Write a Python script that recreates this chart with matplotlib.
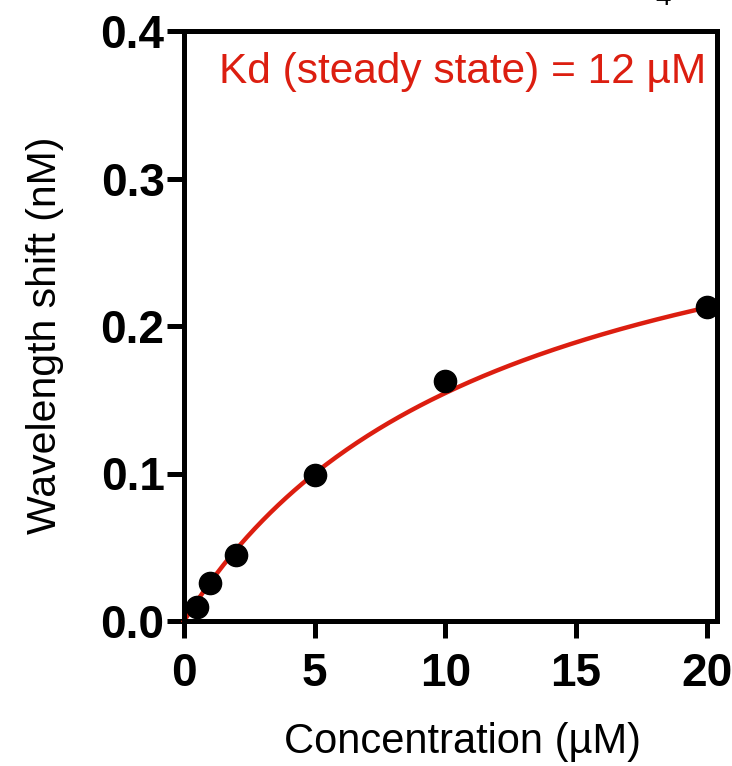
import numpy as np
import matplotlib
matplotlib.use('Agg')
import matplotlib.pyplot as plt

plt.rcParams['font.family'] = ['Liberation Sans', 'DejaVu Sans']

# measured binding data
conc = [0.5, 1, 2, 5, 10, 20]
shift = [0.0095, 0.026, 0.045, 0.099, 0.163, 0.213]

# one-site fit parameters
kd = 12.0
bmax = 0.34

x_ticks = [0, 5, 10, 15, 20]
y_ticks = [0.0, 0.1, 0.2, 0.3, 0.4]
y_tick_labels = ['0.0', '0.1', '0.2', '0.3', '0.4']

red = '#dc1e10'

fig = plt.figure(figsize=(7.32, 7.66), dpi=100)
ax = fig.add_axes([184 / 732, 1 - 621 / 766, (717 - 184) / 732, (621 - 31) / 766])

xfit = np.linspace(0, 20, 200)
ax.plot(xfit, bmax * xfit / (kd + xfit), color=red, lw=3.2, zorder=2, clip_on=False)
ax.plot(conc, shift, 'o', color='black', ms=16, zorder=3, clip_on=False)

ax.set_xlim(0, 20.4)
ax.set_ylim(0, 0.4)
ax.set_xticks(x_ticks)
ax.set_yticks(y_ticks)
ax.set_yticklabels(y_tick_labels)

for s in ax.spines.values():
    s.set_linewidth(3.6)
ax.tick_params(width=3.6, length=12, labelsize=33)
ax.tick_params(axis='x', pad=10)
ax.tick_params(axis='y', pad=2)
for lab in ax.get_xticklabels() + ax.get_yticklabels():
    lab.set_fontweight('bold')

fig.text(462 / 732, 1 - 742 / 766, 'Concentration (µM)', ha='center', va='center', fontsize=30)
fig.text(45 / 732, 1 - 335 / 766, 'Wavelength shift (nM)', ha='center', va='center',
         rotation=90, fontsize=29.5)

ax.text(0.98, 0.93, 'Kd (steady state) = 12 µM', transform=ax.transAxes,
        ha='right', va='center', color=red, fontsize=30.5)

# clipped piece of a heading above the crop
fig.text(663 / 732, 1.003, '4', ha='center', va='center', fontsize=20, color='black')

plt.savefig('out.png', dpi=100)
